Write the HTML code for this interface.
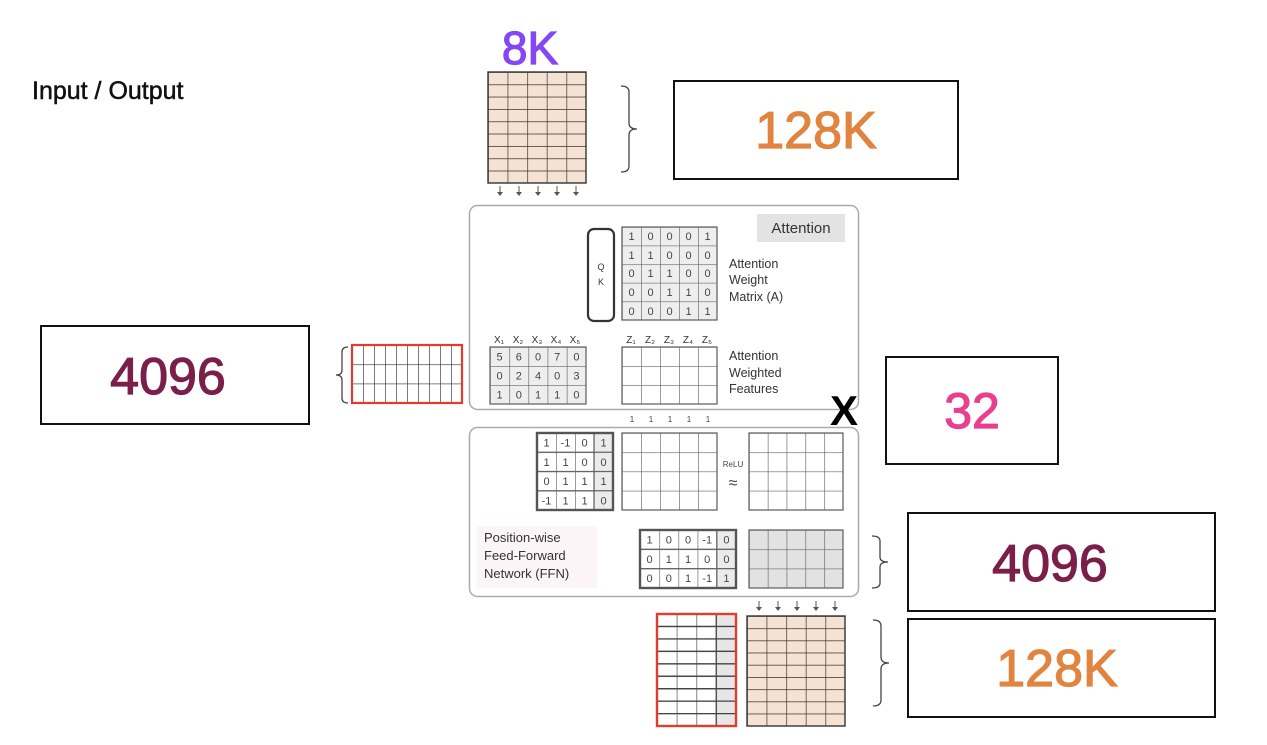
<!DOCTYPE html>
<html><head><meta charset="utf-8"><style>
html,body{margin:0;padding:0;background:#fff;}
svg{display:block;font-family:"Liberation Sans",sans-serif;}
</style></head><body>
<svg width="1267" height="745" viewBox="0 0 1267 745" xmlns="http://www.w3.org/2000/svg">
<defs>
<pattern id="gTop" x="488" y="72" width="19.6" height="12.33" patternUnits="userSpaceOnUse"><rect width="19.6" height="12.33" fill="#f6e2d3"/><path d="M0 0H19.6M0 0V12.33" stroke="#333" stroke-width="1.4" fill="none"/></pattern>
<pattern id="gBot" x="747" y="616" width="19.6" height="12.2" patternUnits="userSpaceOnUse"><rect width="19.6" height="12.2" fill="#f6e2d3"/><path d="M0 0H19.6M0 0V12.2" stroke="#333" stroke-width="1.4" fill="none"/></pattern>
<pattern id="gAtt" x="622" y="227" width="19" height="18.6" patternUnits="userSpaceOnUse"><rect width="19" height="18.6" fill="#eee"/><path d="M0 0H19M0 0V18.6" stroke="#666" stroke-width="1.3" fill="none"/></pattern>
<pattern id="gX" x="490" y="347" width="19.2" height="19" patternUnits="userSpaceOnUse"><rect width="19.2" height="19" fill="#eee"/><path d="M0 0H19.2M0 0V19" stroke="#666" stroke-width="1.3" fill="none"/></pattern>
<pattern id="gZ" x="622" y="347" width="19" height="19" patternUnits="userSpaceOnUse"><rect width="19" height="19" fill="#fff"/><path d="M0 0H19M0 0V19" stroke="#666" stroke-width="1.3" fill="none"/></pattern>
<pattern id="gRedL" x="352" y="345" width="11" height="19.3" patternUnits="userSpaceOnUse"><rect width="11" height="19.3" fill="#fff"/><path d="M0 0H11M0 0V19.3" stroke="#333" stroke-width="1.3" fill="none"/></pattern>
<pattern id="gW" x="537" y="433" width="19" height="19.25" patternUnits="userSpaceOnUse"><rect width="19" height="19.25" fill="#fff"/><path d="M0 0H19M0 0V19.25" stroke="#666" stroke-width="1.3" fill="none"/></pattern>
<pattern id="gE1" x="622" y="433" width="19" height="19.25" patternUnits="userSpaceOnUse"><rect width="19" height="19.25" fill="#fff"/><path d="M0 0H19M0 0V19.25" stroke="#666" stroke-width="1.3" fill="none"/></pattern>
<pattern id="gE2" x="749" y="433" width="18.8" height="19.25" patternUnits="userSpaceOnUse"><rect width="18.8" height="19.25" fill="#fff"/><path d="M0 0H18.8M0 0V19.25" stroke="#666" stroke-width="1.3" fill="none"/></pattern>
<pattern id="gGr" x="749" y="530" width="18.8" height="19.3" patternUnits="userSpaceOnUse"><rect width="18.8" height="19.3" fill="#e2e2e2"/><path d="M0 0H18.8M0 0V19.3" stroke="#666" stroke-width="1.3" fill="none"/></pattern>
<pattern id="gB" x="640" y="530" width="19.2" height="19.3" patternUnits="userSpaceOnUse"><rect width="19.2" height="19.3" fill="#fff"/><path d="M0 0H19.2M0 0V19.3" stroke="#666" stroke-width="1.3" fill="none"/></pattern>
<pattern id="gRedB" x="657" y="614" width="19.75" height="12.44" patternUnits="userSpaceOnUse"><rect width="19.75" height="12.44" fill="#fff"/><path d="M0 0H19.75M0 0V12.44" stroke="#444" stroke-width="1.3" fill="none"/></pattern>
</defs>

<text x="32" y="99" font-size="25" fill="#111" stroke="#111" stroke-width="0.5">Input / Output</text>
<text x="530" y="64" font-size="46" fill="#8447f5" stroke="#8447f5" stroke-width="1.2" text-anchor="middle">8K</text>

<rect x="488" y="72" width="98" height="111" fill="url(#gTop)" stroke="#333" stroke-width="1.4"/>
<g stroke="#555" stroke-width="1"><path d="M500 186v8M519 186v8M538 186v8M557 186v8M576 186v8"/></g>
<g fill="#555"><path d="M497 192l3 4 3-4zM516 192l3 4 3-4zM535 192l3 4 3-4zM554 192l3 4 3-4zM573 192l3 4 3-4z"/></g>
<path d="M621 86q8 0 8 6v31q0 6 8 6q-8 0-8 6v31q0 6-8 6" fill="none" stroke="#444" stroke-width="1.3"/>
<rect x="674" y="81" width="284" height="98" fill="#fff" stroke="#111" stroke-width="2"/>
<text x="816" y="148" font-size="52" fill="#e0843f" stroke="#e0843f" stroke-width="1.2" text-anchor="middle">128K</text>

<rect x="469.5" y="205.5" width="389" height="204" rx="8" fill="#fff" stroke="#aaa" stroke-width="1.5"/>
<rect x="757" y="214" width="88" height="28" fill="#e3e3e3"/>
<text x="801" y="233" font-size="15" fill="#333" text-anchor="middle">Attention</text>
<rect x="588" y="229" width="26" height="92" rx="6" fill="#fff" stroke="#333" stroke-width="2.2"/>
<text x="601" y="270" font-size="9" fill="#333" text-anchor="middle">Q</text>
<text x="601" y="285" font-size="9" fill="#333" text-anchor="middle">K</text>
<rect x="622" y="227" width="95" height="93" fill="url(#gAtt)" stroke="#666" stroke-width="1.3"/>
<g font-size="11" fill="#444" text-anchor="middle">
<text x="631.5" y="240">1</text><text x="650.5" y="240">0</text><text x="669.5" y="240">0</text><text x="688.5" y="240">0</text><text x="707.5" y="240">1</text>
<text x="631.5" y="259">1</text><text x="650.5" y="259">1</text><text x="669.5" y="259">0</text><text x="688.5" y="259">0</text><text x="707.5" y="259">0</text>
<text x="631.5" y="277">0</text><text x="650.5" y="277">1</text><text x="669.5" y="277">1</text><text x="688.5" y="277">0</text><text x="707.5" y="277">0</text>
<text x="631.5" y="296">0</text><text x="650.5" y="296">0</text><text x="669.5" y="296">1</text><text x="688.5" y="296">1</text><text x="707.5" y="296">0</text>
<text x="631.5" y="315">0</text><text x="650.5" y="315">0</text><text x="669.5" y="315">0</text><text x="688.5" y="315">1</text><text x="707.5" y="315">1</text>
</g>
<g font-size="12.5" fill="#333">
<text x="729" y="268">Attention</text><text x="729" y="284">Weight</text><text x="729" y="301">Matrix (A)</text>
<text x="729" y="360">Attention</text><text x="729" y="377">Weighted</text><text x="729" y="393">Features</text>
</g>
<g font-size="10" fill="#333" text-anchor="middle">
<text x="499" y="343">X₁</text><text x="518" y="343">X₂</text><text x="537" y="343">X₃</text><text x="556" y="343">X₄</text><text x="575" y="343">X₅</text>
<text x="631" y="343">Z₁</text><text x="650" y="343">Z₂</text><text x="669" y="343">Z₃</text><text x="688" y="343">Z₄</text><text x="707" y="343">Z₅</text>
</g>
<rect x="490" y="347" width="96" height="57" fill="url(#gX)" stroke="#666" stroke-width="1.3"/>
<g font-size="11" fill="#444" text-anchor="middle">
<text x="499.6" y="360.5">5</text><text x="518.8" y="360.5">6</text><text x="538" y="360.5">0</text><text x="557.2" y="360.5">7</text><text x="576.4" y="360.5">0</text>
<text x="499.6" y="379.5">0</text><text x="518.8" y="379.5">2</text><text x="538" y="379.5">4</text><text x="557.2" y="379.5">0</text><text x="576.4" y="379.5">3</text>
<text x="499.6" y="398.5">1</text><text x="518.8" y="398.5">0</text><text x="538" y="398.5">1</text><text x="557.2" y="398.5">1</text><text x="576.4" y="398.5">0</text>
</g>
<rect x="622" y="347" width="95" height="57" fill="url(#gZ)" stroke="#666" stroke-width="1.3"/>

<rect x="352" y="345" width="110" height="58" fill="url(#gRedL)" stroke="#e53b2c" stroke-width="2.2"/>
<path d="M348 347q-6 0-6 5v18q0 5-6 5q6 0 6 5v18q0 5 6 5" fill="none" stroke="#444" stroke-width="1.3"/>
<rect x="41" y="326" width="268" height="98" fill="#fff" stroke="#111" stroke-width="2"/>
<text x="168" y="394" font-size="52" fill="#7a1f4a" stroke="#7a1f4a" stroke-width="1.2" text-anchor="middle">4096</text>

<g font-size="8" fill="#444" text-anchor="middle">
<text x="632" y="422">1</text><text x="651" y="422">1</text><text x="670" y="422">1</text><text x="689" y="422">1</text><text x="708" y="422">1</text>
<text x="759" y="521">1</text><text x="778" y="521">1</text><text x="797" y="521">1</text><text x="816" y="521">1</text><text x="835" y="521">1</text>
</g>
<text x="844" y="425" font-size="42" font-weight="bold" fill="#000" text-anchor="middle">X</text>
<rect x="886" y="357" width="172" height="107" fill="#fff" stroke="#111" stroke-width="2"/>
<text x="972" y="428" font-size="50" fill="#e8408e" stroke="#e8408e" stroke-width="1.2" text-anchor="middle">32</text>

<rect x="469.5" y="427.5" width="389" height="169" rx="8" fill="#fff" stroke="#aaa" stroke-width="1.5"/>
<rect x="537" y="433" width="76" height="77" fill="url(#gW)"/>
<rect x="594" y="433" width="19" height="77" fill="#e6e6e6" opacity="0.8"/>
<path d="M594 433V510M537 452.25H613M537 471.5H613M537 490.75H613" stroke="#666" stroke-width="1.3"/>
<rect x="537" y="433" width="76" height="77" fill="none" stroke="#555" stroke-width="2.4"/>
<g font-size="11" fill="#444" text-anchor="middle">
<text x="546.5" y="446.5">1</text><text x="565.5" y="446.5">-1</text><text x="584.5" y="446.5">0</text><text x="603.5" y="446.5">1</text>
<text x="546.5" y="466">1</text><text x="565.5" y="466">1</text><text x="584.5" y="466">0</text><text x="603.5" y="466">0</text>
<text x="546.5" y="485">0</text><text x="565.5" y="485">1</text><text x="584.5" y="485">1</text><text x="603.5" y="485">1</text>
<text x="546.5" y="504.5">-1</text><text x="565.5" y="504.5">1</text><text x="584.5" y="504.5">1</text><text x="603.5" y="504.5">0</text>
</g>
<rect x="622" y="433" width="95" height="77" fill="url(#gE1)" stroke="#666" stroke-width="1.3"/>
<text x="733" y="467" font-size="8" fill="#444" text-anchor="middle">ReLU</text>
<text x="733" y="488" font-size="16" fill="#444" text-anchor="middle">≈</text>
<rect x="749" y="433" width="94" height="77" fill="url(#gE2)" stroke="#666" stroke-width="1.3"/>
<rect x="477" y="526" width="120" height="62" fill="#fbf5f8"/>
<g font-size="13" fill="#333"><text x="484" y="542">Position-wise</text><text x="484" y="560">Feed-Forward</text><text x="484" y="578">Network (FFN)</text></g>
<rect x="640" y="530" width="96" height="58" fill="url(#gB)"/>
<rect x="716.8" y="530" width="19.2" height="58" fill="#e6e6e6" opacity="0.8"/>
<path d="M716.8 530V588M640 549.3H736M640 568.6H736" stroke="#666" stroke-width="1.3"/>
<rect x="640" y="530" width="96" height="58" fill="none" stroke="#555" stroke-width="2.4"/>
<g font-size="11" fill="#444" text-anchor="middle">
<text x="649.6" y="543.5">1</text><text x="668.8" y="543.5">0</text><text x="688" y="543.5">0</text><text x="707.2" y="543.5">-1</text><text x="726.4" y="543.5">0</text>
<text x="649.6" y="563">0</text><text x="668.8" y="563">1</text><text x="688" y="563">1</text><text x="707.2" y="563">0</text><text x="726.4" y="563">0</text>
<text x="649.6" y="582">0</text><text x="668.8" y="582">0</text><text x="688" y="582">1</text><text x="707.2" y="582">-1</text><text x="726.4" y="582">1</text>
</g>
<rect x="749" y="530" width="94" height="58" fill="url(#gGr)" stroke="#666" stroke-width="1.3"/>
<path d="M872 536q8 0 8 5v16q0 5 8 5q-8 0-8 5v16q0 5-8 5" fill="none" stroke="#444" stroke-width="1.3"/>
<rect x="908" y="513" width="307" height="98" fill="#fff" stroke="#111" stroke-width="2"/>
<text x="1050" y="581" font-size="52" fill="#7a1f4a" stroke="#7a1f4a" stroke-width="1.2" text-anchor="middle">4096</text>

<g stroke="#555" stroke-width="1"><path d="M759 601v8M778 601v8M797 601v8M816 601v8M835 601v8"/></g>
<g fill="#555"><path d="M756 607l3 4 3-4zM775 607l3 4 3-4zM794 607l3 4 3-4zM813 607l3 4 3-4zM832 607l3 4 3-4z"/></g>
<rect x="657" y="614" width="79" height="112" fill="url(#gRedB)"/>
<rect x="716.25" y="614" width="19.75" height="112" fill="#e2e2e2" opacity="0.85"/>
<path d="M716.25 614V726M657 626.44H736M657 638.9H736M657 651.3H736M657 663.8H736M657 676.2H736M657 688.7H736M657 701.1H736M657 713.6H736" stroke="#444" stroke-width="1.3"/>
<rect x="657" y="614" width="79" height="112" fill="none" stroke="#e53b2c" stroke-width="2.4"/>
<rect x="747" y="616" width="98" height="110" fill="url(#gBot)" stroke="#333" stroke-width="1.4"/>
<path d="M873 620q8 0 8 6v31q0 6 8 6q-8 0-8 6v31q0 6-8 6" fill="none" stroke="#444" stroke-width="1.3"/>
<rect x="908" y="619" width="307" height="98" fill="#fff" stroke="#111" stroke-width="2"/>
<text x="1057" y="686" font-size="52" fill="#e0843f" stroke="#e0843f" stroke-width="1.2" text-anchor="middle">128K</text>
</svg>
</body></html>
